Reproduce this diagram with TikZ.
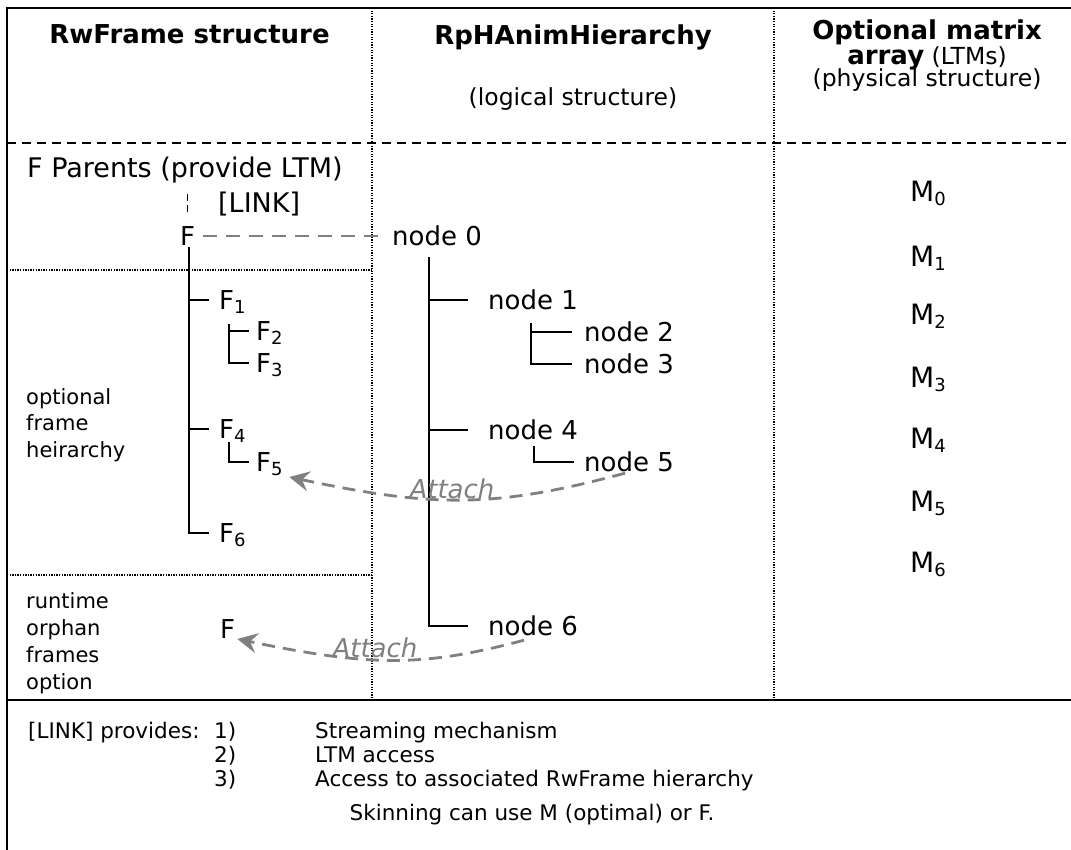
\documentclass[tikz,border=0pt]{standalone}
\usepackage{fontspec}
\setmainfont{DejaVu Sans}
\usetikzlibrary{arrows.meta}
\definecolor{arrowgray}{RGB}{128,128,128}
\newcommand\fsz[1]{\fontsize{#1}{#1}\selectfont}
\newcommand\lowsub[1]{\raisebox{-4pt}{\fontsize{18}{18}\selectfont #1}}
\begin{document}
\begin{tikzpicture}[x=1pt,y=-1pt,
  frameline/.style={line width=2.6pt, black},
  dotline/.style={line width=1.4pt, black, dash pattern=on 1.3pt off 1.3pt},
  dashline/.style={line width=1.8pt, black, dash pattern=on 9pt off 6pt},
  vdash/.style={line width=1.6pt, black, dash pattern=on 7pt off 4pt},
  tree/.style={line width=2pt, black},
  linkline/.style={line width=2.8pt, draw=arrowgray, dash pattern=on 14pt off 9pt},
  attach/.style={line width=2.8pt, draw=arrowgray, dash pattern=on 13pt off 8pt,
     -{Stealth[length=20pt,width=20pt,inset=7pt,fill=arrowgray]}},
  lbl/.style={inner sep=0pt, anchor=west, text height=19pt, text depth=0pt, font=\fsz{26}},
  hdr/.style={inner sep=0pt, anchor=base, font=\bfseries\fsz{26}},
  subhdr/.style={inner sep=0pt, anchor=base, font=\fsz{23.5}},
  smalltxt/.style={inner sep=0pt, anchor=west, align=left, font=\fontsize{21}{26.5}\selectfont},
  mlbl/.style={inner sep=0pt, anchor=base, font=\fsz{28}},
  attlbl/.style={inner sep=0pt, anchor=base, font=\itshape\fsz{26}, text=arrowgray},
  btxt/.style={inner sep=0pt, anchor=base west, font=\fsz{21.5}}
]
\useasboundingbox (0,0) rectangle (1071,850);
\fill[white] (0,0) rectangle (1071,850);

% frame and separators
\draw[frameline] (1071,8) -- (7,8) -- (7,850);
\draw[frameline] (7,700) -- (1071,700);
\draw[dashline] (7,143) -- (1071,143);
\draw[dotline] (372,8) -- (372,700);
\draw[dotline] (774,8) -- (774,700);
\draw[dotline] (7,270) -- (372,270);
\draw[dotline] (7,575) -- (372,575);

% headers
\node[hdr] (h1) at (189.5,44) {RwFrame structure};
\node[hdr] (h2) at (573,45) {RpHAnimHierarchy};
\node[subhdr] (h2b) at (573,106) {(logical structure)};
\node[hdr] (h3a) at (927,40) {Optional matrix};
\node[subhdr] (h3b) at (927,65) {{\bfseries\fsz{26}array} (LTMs)};
\node[subhdr] (h3c) at (927,87) {(physical structure)};

% RwFrame column
\node[inner sep=0pt, anchor=base west, font=\fsz{27}] (fpar) at (27,178) {F Parents (provide LTM)};
\node[inner sep=0pt, anchor=base west, font=\fsz{27}] (link) at (218,213) {[LINK]};
\node[lbl] (F) at (180,236) {F};
\node[lbl] (F1) at (219,300) {F\lowsub{1}};
\node[lbl] (F2) at (256,331) {F\lowsub{2}};
\node[lbl] (F3) at (256,363) {F\lowsub{3}};
\node[lbl] (F4) at (219,429) {F\lowsub{4}};
\node[lbl] (F5) at (256,462) {F\lowsub{5}};
\node[lbl] (F6) at (219,533) {F\lowsub{6}};
\node[lbl] (Fo) at (220,629) {F};
\node[smalltxt] (opt) at (26,425) {optional\\frame\\heirarchy};
\node[smalltxt, font=\fontsize{21}{27}\selectfont] (run) at (26,643) {runtime\\orphan\\frames\\option};

\draw[vdash] ([yshift=14pt]F.north) -- ([yshift=35pt]F.north);
\coordinate (fstem) at (189,247);
\draw[tree] (fstem) |- ([xshift=-10pt]F6.west);
\draw[tree] (fstem |- F1.west) -- ([xshift=-10pt]F1.west);
\draw[tree] (fstem |- F4.west) -- ([xshift=-10pt]F4.west);
\coordinate (f2stem) at (229,324);
\draw[tree] (f2stem) |- ([xshift=-7pt]F3.west);
\draw[tree] (f2stem |- F2.west) -- ([xshift=-7pt]F2.west);
\coordinate (f5stem) at (229,442);
\draw[tree] (f5stem) |- ([xshift=-7pt]F5.west);

% RpHAnimHierarchy column
\node[lbl] (n0) at (392,236) {node 0};
\node[lbl] (n1) at (488,300) {node 1};
\node[lbl] (n2) at (584,332) {node 2};
\node[lbl] (n3) at (584,364) {node 3};
\node[lbl] (n4) at (488,430) {node 4};
\node[lbl] (n5) at (584,462) {node 5};
\node[lbl] (n6) at (488,626) {node 6};

\draw[linkline] ([xshift=8pt]F.east) -- ([xshift=-14pt]n0.west);
\coordinate (nstem) at (429,257);
\draw[tree] (nstem) |- ([xshift=-20pt]n6.west);
\draw[tree] (nstem |- n1.west) -- ([xshift=-20pt]n1.west);
\draw[tree] (nstem |- n4.west) -- ([xshift=-20pt]n4.west);
\coordinate (n2stem) at (531,323);
\draw[tree] (n2stem) |- ([xshift=-12pt]n3.west);
\draw[tree] (n2stem |- n2.west) -- ([xshift=-12pt]n2.west);
\coordinate (n5stem) at (534,446);
\draw[tree] (n5stem) |- ([xshift=-10pt]n5.west);

% attach arrows
\draw[attach] ([xshift=41pt,yshift=-1.5pt]n5.south west) .. controls (495,508) and (435,508) .. ([xshift=6.5pt,yshift=-15pt]F5.east);
\node[attlbl] (at1) at (452,498) {Attach};
\draw[attach] ([xshift=36pt,yshift=-4.5pt]n6.south west) .. controls (423,667) and (372,667) .. ([xshift=2pt,yshift=-10pt]Fo.east);
\node[attlbl] (at2) at (375,657) {Attach};

% matrix array
\node[mlbl] (M0) at (928,202) {M\lowsub{0}};
\node[mlbl] (M1) at (928,267) {M\lowsub{1}};
\node[mlbl] (M2) at (928,325) {M\lowsub{2}};
\node[mlbl] (M3) at (928,387) {M\lowsub{3}};
\node[mlbl] (M4) at (928,448) {M\lowsub{4}};
\node[mlbl] (M5) at (928,511) {M\lowsub{5}};
\node[mlbl] (M6) at (928,572) {M\lowsub{6}};

% bottom notes
\node[btxt] (lp) at (28,738) {[LINK] provides:};
\node[btxt] (k1) at (214,738) {1)};
\node[btxt] (k2) at (214,762) {2)};
\node[btxt] (k3) at (214,786) {3)};
\node[btxt] (i1) at (315,738) {Streaming mechanism};
\node[btxt] (i2) at (315,762) {LTM access};
\node[btxt] (i3) at (315,786) {Access to associated RwFrame hierarchy};
\node[btxt, anchor=base] (sk) at (532,820) {Skinning can use M (optimal) or F.};
\end{tikzpicture}
\end{document}
